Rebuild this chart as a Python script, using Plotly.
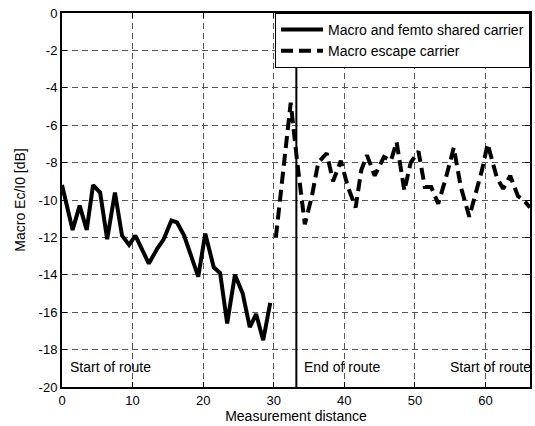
import plotly.graph_objects as go

# Solid: macro and femto shared carrier
x_shared = [0, 1.5, 2.5, 3.5, 4.4, 5.4, 6.4, 7.5, 8.5, 9.5, 10.4, 11.4, 12.3, 13.5, 14.4,
            15.5, 16.3, 17.3, 18.3, 19.3, 20.3, 21.5, 22.4, 23.4, 24.5, 25.6, 26.6, 27.5,
            28.5, 29.5]
y_shared = [-9.2, -11.6, -10.3, -11.6, -9.2, -9.6, -12.1, -9.6, -11.9, -12.4, -11.9, -12.7,
            -13.4, -12.6, -12.1, -11.1, -11.2, -11.9, -13.0, -14.1, -11.8, -13.6, -13.9,
            -16.6, -14.0, -15.0, -16.8, -16.1, -17.5, -15.5]

# Dashed: macro escape carrier
x_escape = [30.3, 31.3, 32.4, 33.3, 34.4, 35.4, 36.3, 37.5, 38.4, 39.5, 40.5, 41.6, 42.4,
            43.2, 44.3, 45.6, 46.6, 47.4, 48.5, 49.4, 50.5, 51.4, 52.3, 53.3, 54.4, 55.5,
            56.5, 57.7, 58.7, 59.5, 60.3, 61.6, 62.5, 63.5, 64.6, 65.4, 66.3]
y_escape = [-12.0, -8.6, -4.8, -7.9, -11.3, -9.8, -8.0, -7.5, -9.0, -7.9, -9.3, -10.4, -8.4,
            -7.6, -8.7, -7.7, -7.9, -6.9, -9.5, -8.0, -7.4, -9.3, -9.3, -10.2, -8.8, -7.2,
            -9.3, -10.9, -9.6, -8.4, -7.0, -8.8, -9.4, -8.7, -9.8, -10.0, -10.4]

route_end_x = 33.2
route_labels = ["Start of route", "End of route", "Start of route"]
route_label_x = [0.8, 34.0, 54.7]
route_label_y = -18.95

x_ticks = [0, 10, 20, 30, 40, 50, 60]
x_tick_labels = ["0", "10", "20", "30", "40", "50", "60"]
y_ticks = [0, -2, -4, -6, -8, -10, -12, -14, -16, -18, -20]
y_tick_labels = ["0", "-2", "-4", "-6", "-8", "-10", "-12", "-14", "-16", "-18", "-20"]

FONT = "Liberation Sans, Arial, sans-serif"

fig = go.Figure()
fig.add_trace(go.Scatter(x=x_shared, y=y_shared, mode="lines",
                         name="Macro and femto shared carrier",
                         line=dict(color="black", width=4)))
fig.add_trace(go.Scatter(x=x_escape, y=y_escape, mode="lines",
                         name="Macro escape carrier",
                         line=dict(color="black", width=4, dash="12px,6px")))

fig.add_vline(x=route_end_x, line=dict(color="black", width=2))

for t, xx in zip(route_labels, route_label_x):
    fig.add_annotation(x=xx, y=route_label_y, text=t, showarrow=False,
                       xanchor="left", yanchor="middle",
                       font=dict(family=FONT, size=14, color="black"))

axis_common = dict(showline=True, linecolor="black", linewidth=2, mirror="ticks",
                   ticks="inside", ticklen=5, tickcolor="black", tickwidth=1,
                   showgrid=True, gridcolor="#555555", gridwidth=1, griddash="6px,4px",
                   zeroline=False, tickfont=dict(family=FONT, size=13, color="black"))

fig.update_xaxes(range=[0, 66.3], tickvals=x_ticks, ticktext=x_tick_labels,
                 title=dict(text="Measurement distance", standoff=1,
                            font=dict(family=FONT, size=14, color="black")),
                 **axis_common)
fig.update_yaxes(range=[-20, 0], tickvals=y_ticks, ticktext=y_tick_labels,
                 title=dict(text="Macro Ec/I0 [dB]", standoff=10,
                            font=dict(family=FONT, size=14, color="black")),
                 **axis_common)

fig.update_layout(
    width=535, height=426,
    margin=dict(l=62, r=3, t=13, b=39),
    paper_bgcolor="white", plot_bgcolor="white",
    font=dict(family=FONT, size=14, color="black"),
    legend=dict(x=1, y=1, xanchor="right", yanchor="top",
                bgcolor="white", bordercolor="black", borderwidth=1,
                font=dict(family=FONT, size=14, color="black"),
                itemwidth=42, tracegroupgap=0),
    showlegend=True,
)

fig.write_html("out.html")
